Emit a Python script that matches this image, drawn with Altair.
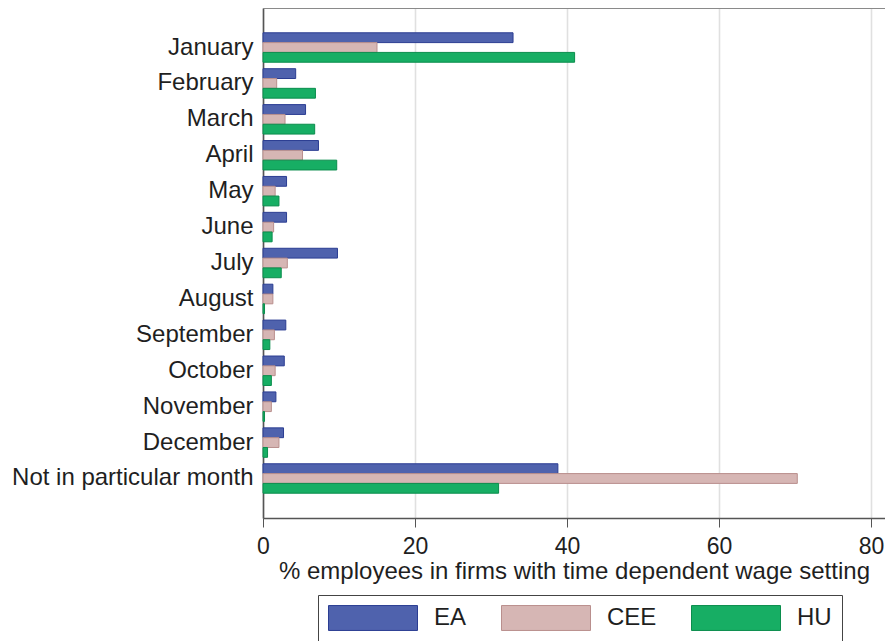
import altair as alt
import pandas as pd

months = ["January", "February", "March", "April", "May", "June", "July",
          "August", "September", "October", "November", "December",
          "Not in particular month"]
ea = [32.9, 4.3, 5.6, 7.3, 3.1, 3.1, 9.8, 1.3, 3.0, 2.8, 1.7, 2.7, 38.8]
cee = [15.0, 1.8, 2.9, 5.2, 1.6, 1.4, 3.2, 1.3, 1.5, 1.6, 1.1, 2.1, 70.3]
hu = [41.0, 6.9, 6.8, 9.7, 2.1, 1.2, 2.4, 0.2, 0.9, 1.1, 0.2, 0.6, 31.0]
series = ["EA", "CEE", "HU"]
fills = ["#4f62ad", "#d6b6b4", "#17ae64"]
strokes = ["#2b3d92", "#b98f8d", "#0b8d4d"]

rows = []
for name, vals in zip(series, [ea, cee, hu]):
    for m, v in zip(months, vals):
        rows.append({"month": m, "series": name, "value": v})
df = pd.DataFrame(rows)

W, H = 622, 510
FONT = "Liberation Sans"

bars = alt.Chart(df).mark_bar(strokeWidth=1).encode(
    y=alt.Y("month:N", sort=months, title=None,
            scale=alt.Scale(paddingInner=0.18, paddingOuter=0.69),
            axis=alt.Axis(labelFontSize=24, labelPadding=10, ticks=False, labelLimit=400,
                          labelColor="#1f1f1f", labelFont=FONT, grid=False,
                          domainColor="#555555", domainWidth=1.6)),
    yOffset=alt.YOffset("series:N", sort=series, scale=alt.Scale(paddingInner=0, paddingOuter=0)),
    x=alt.X("value:Q", title="% employees in firms with time dependent wage setting",
            scale=alt.Scale(domain=[0, 81.84], nice=False),
            axis=alt.Axis(values=[0, 20, 40, 60, 80], labelFontSize=23, labelColor="#1f1f1f",
                          labelFont=FONT, titleFont=FONT, titleFontSize=24,
                          titleFontWeight="normal", titleColor="#1f1f1f", titlePadding=1,
                          tickSize=9, tickColor="#555555", domainColor="#555555",
                          domainWidth=1.6, labelPadding=8, grid=True,
                          gridColor="#e0e0e0", gridWidth=1.6, labelFlush=False)),
    fill=alt.Fill("series:N", sort=series,
                  scale=alt.Scale(domain=series, range=fills),
                  legend=alt.Legend(title=None, orient="none", legendX=55, legendY=587,
                                    direction="horizontal", columns=3,
                                    symbolType="M-1,-0.28H1V0.28H-1Z", symbolSize=7921,
                                    symbolStrokeWidth=1, clipHeight=26,
                                    labelFontSize=24, labelFont=FONT, labelColor="#1f1f1f",
                                    labelOffset=16, columnPadding=34, padding=10,
                                    fillColor="white", strokeColor="#444444",
                                    symbolOpacity=1)),
    stroke=alt.Stroke("series:N", sort=series,
                      scale=alt.Scale(domain=series, range=strokes), legend=None),
)

border = alt.Chart(df).mark_rule(color="#8a8a8a", strokeWidth=2).encode(
    x=alt.value(0), x2=alt.value(W), y=alt.value(0)
)

chart = alt.layer(bars, border).properties(
    width=W, height=H,
    autosize=alt.AutoSizeParams(type="none"),
    padding={"left": 255, "top": 0, "right": 0, "bottom": 123},
).configure_view(stroke=None).configure(font=FONT)

chart.save("out.html", embed_options={"renderer": "svg", "actions": False})
